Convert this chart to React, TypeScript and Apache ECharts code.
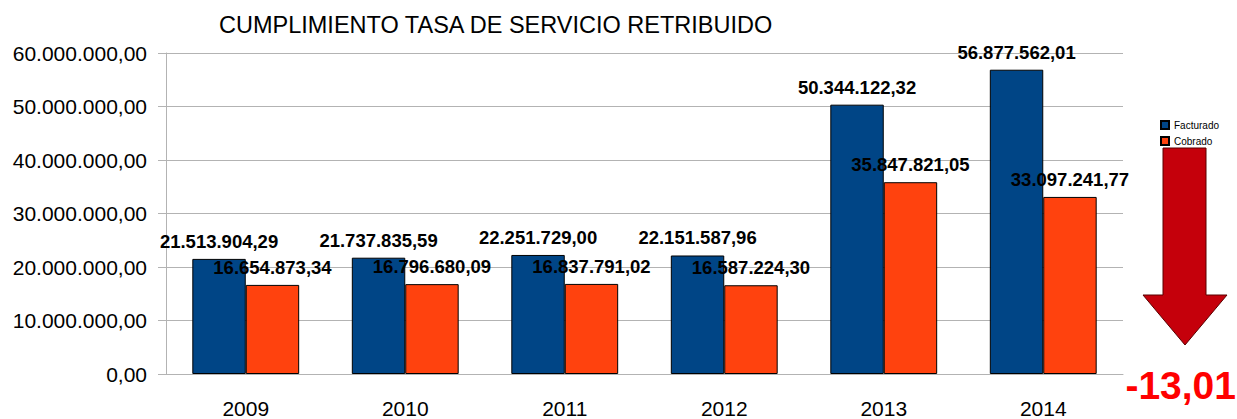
import React, { useEffect, useRef } from "react";
import * as echarts from "echarts";

const years = ["2009", "2010", "2011", "2012", "2013", "2014"];
const facturado = [21513904.29, 21737835.59, 22251729.0, 22151587.96, 50344122.32, 56877562.01];
const cobrado = [16654873.34, 16796680.09, 16837791.02, 16587224.3, 35847821.05, 33097241.77];
const seriesNames = ["Facturado", "Cobrado"];
const variation = "-13,01";
const titleText = "CUMPLIMIENTO TASA DE SERVICIO RETRIBUIDO";

function fmt(v: number): string {
  const fixed = Math.abs(v).toFixed(2);
  const [intPart, dec] = fixed.split(".");
  const withDots = intPart.replace(/\B(?=(\d{3})+(?!\d))/g, ".");
  return (v < 0 ? "-" : "") + withDots + "," + dec;
}

const FONT = "'Liberation Sans', Arial, sans-serif";

export default function App() {
  const ref = useRef<HTMLDivElement>(null);
  useEffect(() => {
    document.body.style.margin = "0";
    if (!ref.current) return;
    const chart = echarts.init(ref.current, undefined, { renderer: "svg" });
    const labelCfg = {
      show: true,
      position: "top" as const,
      distance: 8,
      fontSize: 18.5,
      fontWeight: "bold" as const,
      color: "#000",
      fontFamily: FONT,
      formatter: (p: any) => fmt(p.value),
    };
    chart.setOption({
      animation: false,
      backgroundColor: "#fff",
      textStyle: { fontFamily: FONT },
      title: {
        text: titleText,
        left: 214,
        top: 8,
        textStyle: { fontSize: 23.5, fontWeight: "normal", color: "#000", fontFamily: FONT },
      },
      legend: {
        orient: "vertical",
        left: 1155,
        top: 115,
        icon: "rect",
        itemWidth: 8,
        itemHeight: 8,
        itemGap: 6,
        textStyle: { fontSize: 10, color: "#000", fontFamily: FONT, padding: [0, 0, 0, 0] },
        data: seriesNames,
      },
      grid: { left: 166, right: 114, top: 53, bottom: 44, containLabel: false },
      xAxis: {
        type: "category",
        data: years,
        axisLine: { lineStyle: { color: "#b3b3b3" } },
        axisTick: { alignWithLabel: true, length: 11, lineStyle: { color: "#b3b3b3" } },
        axisLabel: { fontSize: 21, color: "#000", margin: 24, fontFamily: FONT },
      },
      yAxis: {
        type: "value",
        min: 0,
        max: 60000000,
        interval: 10000000,
        axisLine: { show: true, lineStyle: { color: "#b3b3b3" } },
        axisTick: { show: true, length: 8, lineStyle: { color: "#b3b3b3" } },
        splitLine: { lineStyle: { color: "#b3b3b3" } },
        axisLabel: { fontSize: 21, color: "#000", margin: 19, fontFamily: FONT, formatter: (v: number) => fmt(v) },
      },
      series: [
        {
          name: seriesNames[0],
          type: "bar",
          data: facturado,
          barGap: "0%",
          barCategoryGap: "33%",
          itemStyle: { color: "#004586", borderColor: "#000", borderWidth: 1 },
          label: labelCfg,
        },
        {
          name: seriesNames[1],
          type: "bar",
          data: cobrado,
          itemStyle: { color: "#ff420e", borderColor: "#000", borderWidth: 1 },
          label: labelCfg,
        },
      ],
      graphic: [
        {
          type: "polygon",
          shape: {
            points: [
              [1163, 148],
              [1206, 148],
              [1206, 295],
              [1227, 295],
              [1185, 345],
              [1143, 295],
              [1163, 295],
            ],
          },
          style: { fill: "#c5000b", stroke: "#5a0000", lineWidth: 1 },
        },
        {
          type: "text",
          right: 1,
          top: 366,
          style: {
            text: variation,
            fill: "#ff0000",
            font: `bold 39px ${FONT}`,
          },
        },
      ],
    });
    return () => chart.dispose();
  }, []);
  return <div ref={ref} style={{ width: 1237, height: 419 }} />;
}
